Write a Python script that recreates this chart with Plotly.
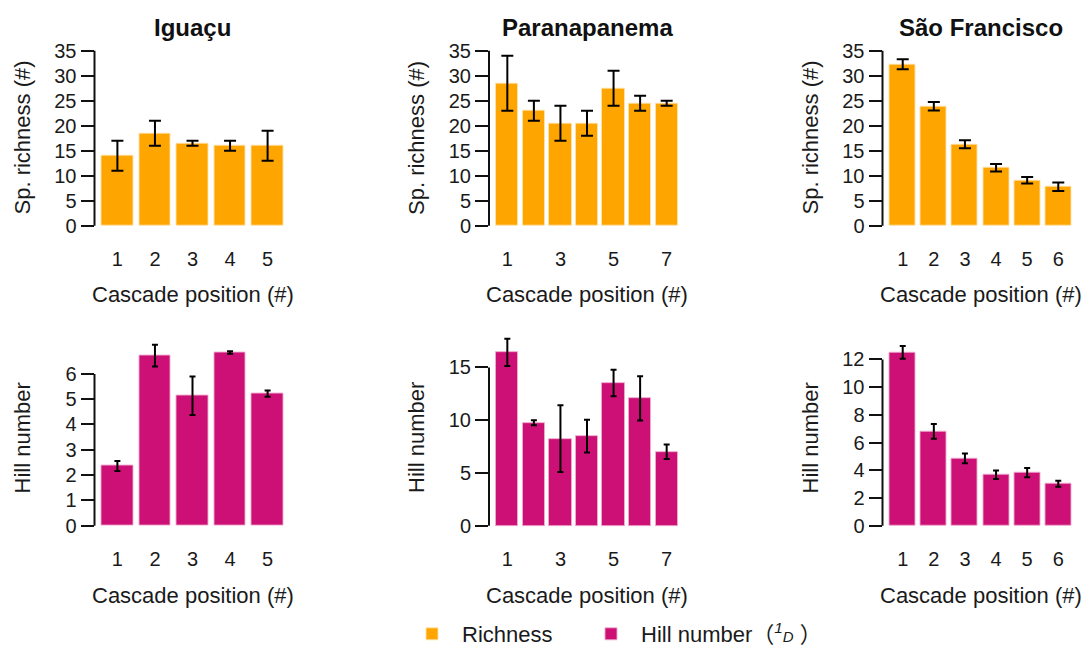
import plotly.graph_objects as go

W, H = 1082, 645

basins = ["Iguaçu", "Paranapanema", "São Francisco"]

# Species richness per cascade position (mean and error half-width)
rich_iguacu = [14.0, 18.5, 16.5, 16.0, 16.0]
rich_iguacu_err = [3.0, 2.5, 0.5, 1.0, 3.0]
rich_parana = [28.5, 23.0, 20.5, 20.5, 27.5, 24.5, 24.5]
rich_parana_err = [5.5, 2.0, 3.5, 2.5, 3.5, 1.5, 0.5]
rich_sf = [32.3, 23.9, 16.3, 11.6, 9.1, 7.8]
rich_sf_err = [1.0, 0.85, 0.8, 0.75, 0.65, 0.85]

# Hill number (1D) per cascade position (mean and error half-width)
hill_iguacu = [2.36, 6.72, 5.14, 6.85, 5.22]
hill_iguacu_err = [0.2, 0.43, 0.76, 0.05, 0.12]
hill_parana = [16.43, 9.76, 8.25, 8.5, 13.52, 12.07, 7.01]
hill_parana_err = [1.3, 0.23, 3.16, 1.55, 1.26, 2.1, 0.68]
hill_sf = [12.52, 6.81, 4.86, 3.68, 3.83, 3.03]
hill_sf_err = [0.46, 0.53, 0.35, 0.31, 0.33, 0.21]

# Tick values
rich_ticks = [0, 5, 10, 15, 20, 25, 30, 35]
hill_ticks = [
    [0, 1, 2, 3, 4, 5, 6],
    [0, 5, 10, 15],
    [0, 2, 4, 6, 8, 10, 12],
]
x_ticks = [
    [1, 2, 3, 4, 5],
    [1, 3, 5, 7],
    [1, 2, 3, 4, 5, 6],
]

ORANGE = "#FFA500"
MAGENTA = "#CD1076"
FONT = "Liberation Sans, Arial, Noto Sans CJK SC, sans-serif"

# Panel geometry in pixels
AXIS_X = [94.5, 489, 882.5]       # left edge of each column's plotting region
REGION_W = 196                    # width of the plotting region
TOP_ZERO, TOP_PPU = 225.7, 5.0    # pixel of y=0 and pixels per unit, top row
BOT_ZERO = 525.7
BOT_PPU = [25.3, 10.55, 13.85]


def px_x(p):
    return p / W


def px_y(p):
    return 1 - p / H


rows = [
    dict(vals=[rich_iguacu, rich_parana, rich_sf],
         errs=[rich_iguacu_err, rich_parana_err, rich_sf_err],
         color=ORANGE, edge="rgba(255,225,170,0.9)", name="Richness",
         legend="legend", ytitle="Sp. richness (#)", cap=6, zero=TOP_ZERO),
    dict(vals=[hill_iguacu, hill_parana, hill_sf],
         errs=[hill_iguacu_err, hill_parana_err, hill_sf_err],
         color=MAGENTA, edge="rgba(240,170,205,0.9)",
         name=("Hill number（<sup><i>1</i></sup>"
               "<span style='font-size:15px'><i>D</i></span> ）"),
         legend="legend2", ytitle="Hill number", cap=3, zero=BOT_ZERO),
]

fig = go.Figure()
layout = {}
shapes = []
annotations = []

k = 0
for r, row in enumerate(rows):
    for c in range(3):
        k += 1
        sx = "" if k == 1 else str(k)
        vals, errs = row["vals"][c], row["errs"][c]
        n = len(vals)
        xs = list(range(1, n + 1))

        # x range following barplot spacing (width 1, space 0.2, 4% padding)
        span = 1.2 * n - 0.2
        pad = 0.04 * span
        xr = [(0.2 - pad + 0.5) / 1.2, (1.2 * n + pad + 0.5) / 1.2]

        if r == 0:
            ticks = rich_ticks
            ymax = 35.0
            ppu = TOP_PPU
        else:
            ticks = hill_ticks[c]
            ymax = max(v + e for v, e in zip(vals, errs))
            ppu = BOT_PPU[c]
        yr = [-0.04 * ymax, 1.04 * ymax]
        bottom_px = row["zero"] + 0.04 * ymax * ppu
        top_px = row["zero"] - 1.04 * ymax * ppu

        fig.add_trace(go.Bar(
            x=xs, y=vals, width=1 / 1.2,
            marker=dict(color=row["color"], line=dict(color=row["edge"], width=1)),
            error_y=dict(type="data", array=errs, color="black",
                         thickness=2, width=row["cap"]),
            name=row["name"], legend=row["legend"], showlegend=(c == 0),
            xaxis="x" + sx, yaxis="y" + sx,
        ))

        left = AXIS_X[c]
        layout["xaxis" + sx] = dict(
            domain=[px_x(left), px_x(left + REGION_W)], range=xr,
            anchor="y" + sx, tickvals=x_ticks[c], ticktext=[str(t) for t in x_ticks[c]],
            showgrid=False, zeroline=False, showline=False, ticks="",
            tickfont=dict(size=20, color="#1a1a1a"), ticklabelstandoff=12,
            fixedrange=True,
        )
        layout["yaxis" + sx] = dict(
            domain=[px_y(bottom_px), px_y(top_px)], range=yr,
            anchor="x" + sx, tickvals=ticks, ticktext=[str(t) for t in ticks],
            showgrid=False, zeroline=False, showline=False,
            ticks="outside", ticklen=13, tickwidth=2, tickcolor="#111",
            tickfont=dict(size=20, color="#1a1a1a"), ticklabelstandoff=0,
            fixedrange=True,
        )
        # y axis line spans first to last tick only
        shapes.append(dict(
            type="line", xref="x" + sx + " domain", yref="y" + sx,
            x0=0, x1=0, y0=ticks[0], y1=ticks[-1],
            line=dict(color="#111", width=2),
        ))

        cx = left + REGION_W / 2
        if r == 0:
            annotations.append(dict(
                text="<b>" + basins[c] + "</b>", x=px_x(cx), y=px_y(28),
                xref="paper", yref="paper", showarrow=False,
                font=dict(size=24, color="#111"), xanchor="center", yanchor="middle",
            ))
        annotations.append(dict(
            text="Cascade position (#)", x=px_x(cx),
            y=px_y(295 if r == 0 else 595),
            xref="paper", yref="paper", showarrow=False,
            font=dict(size=22, color="#1a1a1a"), xanchor="center", yanchor="middle",
        ))
        annotations.append(dict(
            text=row["ytitle"], x=px_x(left - 73),
            y=px_y(138 if r == 0 else 438),
            xref="paper", yref="paper", showarrow=False, textangle=-90,
            font=dict(size=22, color="#1a1a1a"), xanchor="center", yanchor="middle",
        ))

legend_common = dict(
    orientation="h", xanchor="left", yanchor="middle",
    font=dict(size=22, color="#1a1a1a"), itemwidth=50,
    bgcolor="rgba(0,0,0,0)",
)

fig.update_layout(
    width=W, height=H,
    margin=dict(l=0, r=0, t=0, b=0, autoexpand=False),
    paper_bgcolor="white", plot_bgcolor="white",
    font=dict(family=FONT, color="#1a1a1a"),
    showlegend=True,
    legend=dict(x=px_x(402), y=px_y(634), **legend_common),
    legend2=dict(x=px_x(581), y=px_y(634), **legend_common),
    shapes=shapes,
    annotations=annotations,
    bargap=0,
    **layout,
)

fig.write_html("out.html")
